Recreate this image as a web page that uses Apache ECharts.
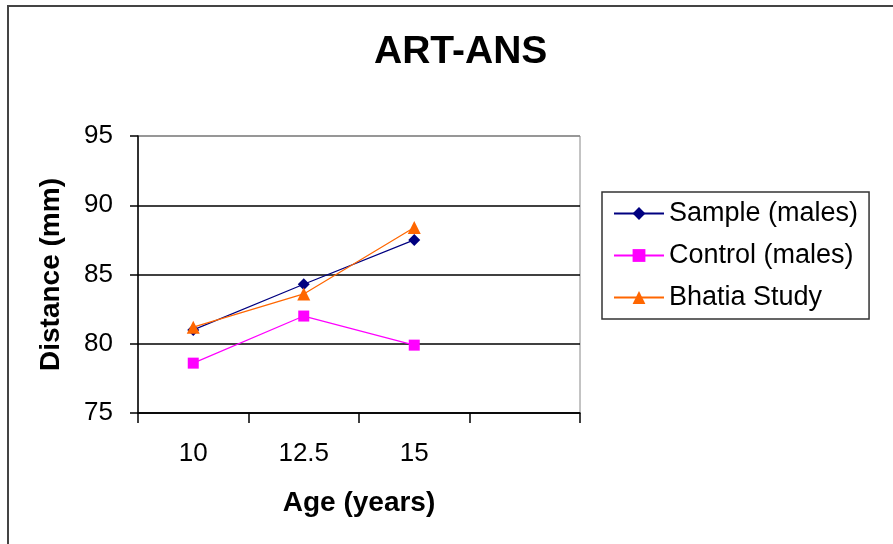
<!DOCTYPE html>
<html>
<head>
<meta charset="utf-8">
<title>ART-ANS</title>
<script src="https://cdn.jsdelivr.net/npm/echarts@6/dist/echarts.min.js"></script>
<style>
  html, body { margin: 0; padding: 0; background: #fff; }
  #chart { width: 893px; height: 544px; }
</style>
</head>
<body>
<div id="chart"></div>
<script>
// ages on the x axis (last slot is empty, as in the original sheet)
const ages = ['10', '12.5', '15', ''];
const sampleMales = [81.0, 84.3, 87.5];
const controlMales = [78.6, 82.0, 79.9];
const bhatiaStudy = [81.2, 83.6, 88.4];

const font = '"Liberation Sans", Arial, sans-serif';

const chart = echarts.init(document.getElementById('chart'));

const makeSeries = (name, data, color, symbol, size) => ({
  name,
  type: 'line',
  data,
  symbol,
  symbolSize: size,
  showAllSymbol: true,
  itemStyle: { color },
  lineStyle: { color, width: 1.2 },
  emphasis: { disabled: true }
});

chart.setOption({
  animation: false,
  backgroundColor: '#fff',
  textStyle: { fontFamily: font },
  graphic: [{
    type: 'rect',
    shape: { x: 8, y: 6, width: 1000, height: 1000 },
    style: { fill: 'none', stroke: '#444', lineWidth: 2 },
    silent: true
  }],
  title: {
    text: 'ART-ANS',
    left: 374,
    top: 33,
    padding: 0,
    textStyle: { fontFamily: font, fontSize: 39, fontWeight: 'bold', color: '#000' }
  },
  legend: {
    left: 602,
    top: 192,
    orient: 'vertical',
    padding: [8, 11],
    itemGap: 15,
    itemWidth: 50,
    itemHeight: 16,
    borderColor: '#333',
    borderWidth: 1.5,
    textStyle: { fontFamily: font, fontSize: 27, color: '#000', lineHeight: 27 },
    data: ['Sample (males)', 'Control (males)', 'Bhatia Study']
  },
  grid: {
    left: 138,
    right: 313,
    top: 136,
    bottom: 131,
    show: true,
    borderColor: '#888',
    borderWidth: 1
  },
  xAxis: {
    type: 'category',
    data: ages,
    boundaryGap: true,
    name: 'Age (years)',
    nameLocation: 'middle',
    nameGap: 76,
    nameTextStyle: { fontFamily: font, fontSize: 28, fontWeight: 'bold', color: '#000' },
    axisLine: { lineStyle: { color: '#000', width: 1.5 } },
    axisTick: { show: true, length: 10, lineStyle: { color: '#000', width: 1.5 } },
    axisLabel: { fontFamily: font, fontSize: 26, color: '#000', margin: 28 },
    splitLine: { show: false }
  },
  yAxis: {
    type: 'value',
    min: 75,
    max: 95,
    interval: 5,
    name: 'Distance (mm)',
    nameLocation: 'middle',
    nameGap: 73,
    nameTextStyle: { fontFamily: font, fontSize: 28, fontWeight: 'bold', color: '#000' },
    axisLine: { show: true, lineStyle: { color: '#000', width: 1.5 } },
    axisTick: { show: true, length: 8, lineStyle: { color: '#000', width: 1.5 } },
    axisLabel: { fontFamily: font, fontSize: 26, color: '#000', margin: 25 },
    splitLine: {
      show: true,
      lineStyle: { color: ['#000', '#000', '#000', '#000', '#888'], width: 1.5 }
    }
  },
  series: [
    makeSeries('Sample (males)', sampleMales, '#000080', 'diamond', 12),
    makeSeries('Control (males)', controlMales, '#ff00ff', 'rect', 11),
    makeSeries('Bhatia Study', bhatiaStudy, '#ff6600', 'triangle', 13)
  ]
});
</script>
</body>
</html>
